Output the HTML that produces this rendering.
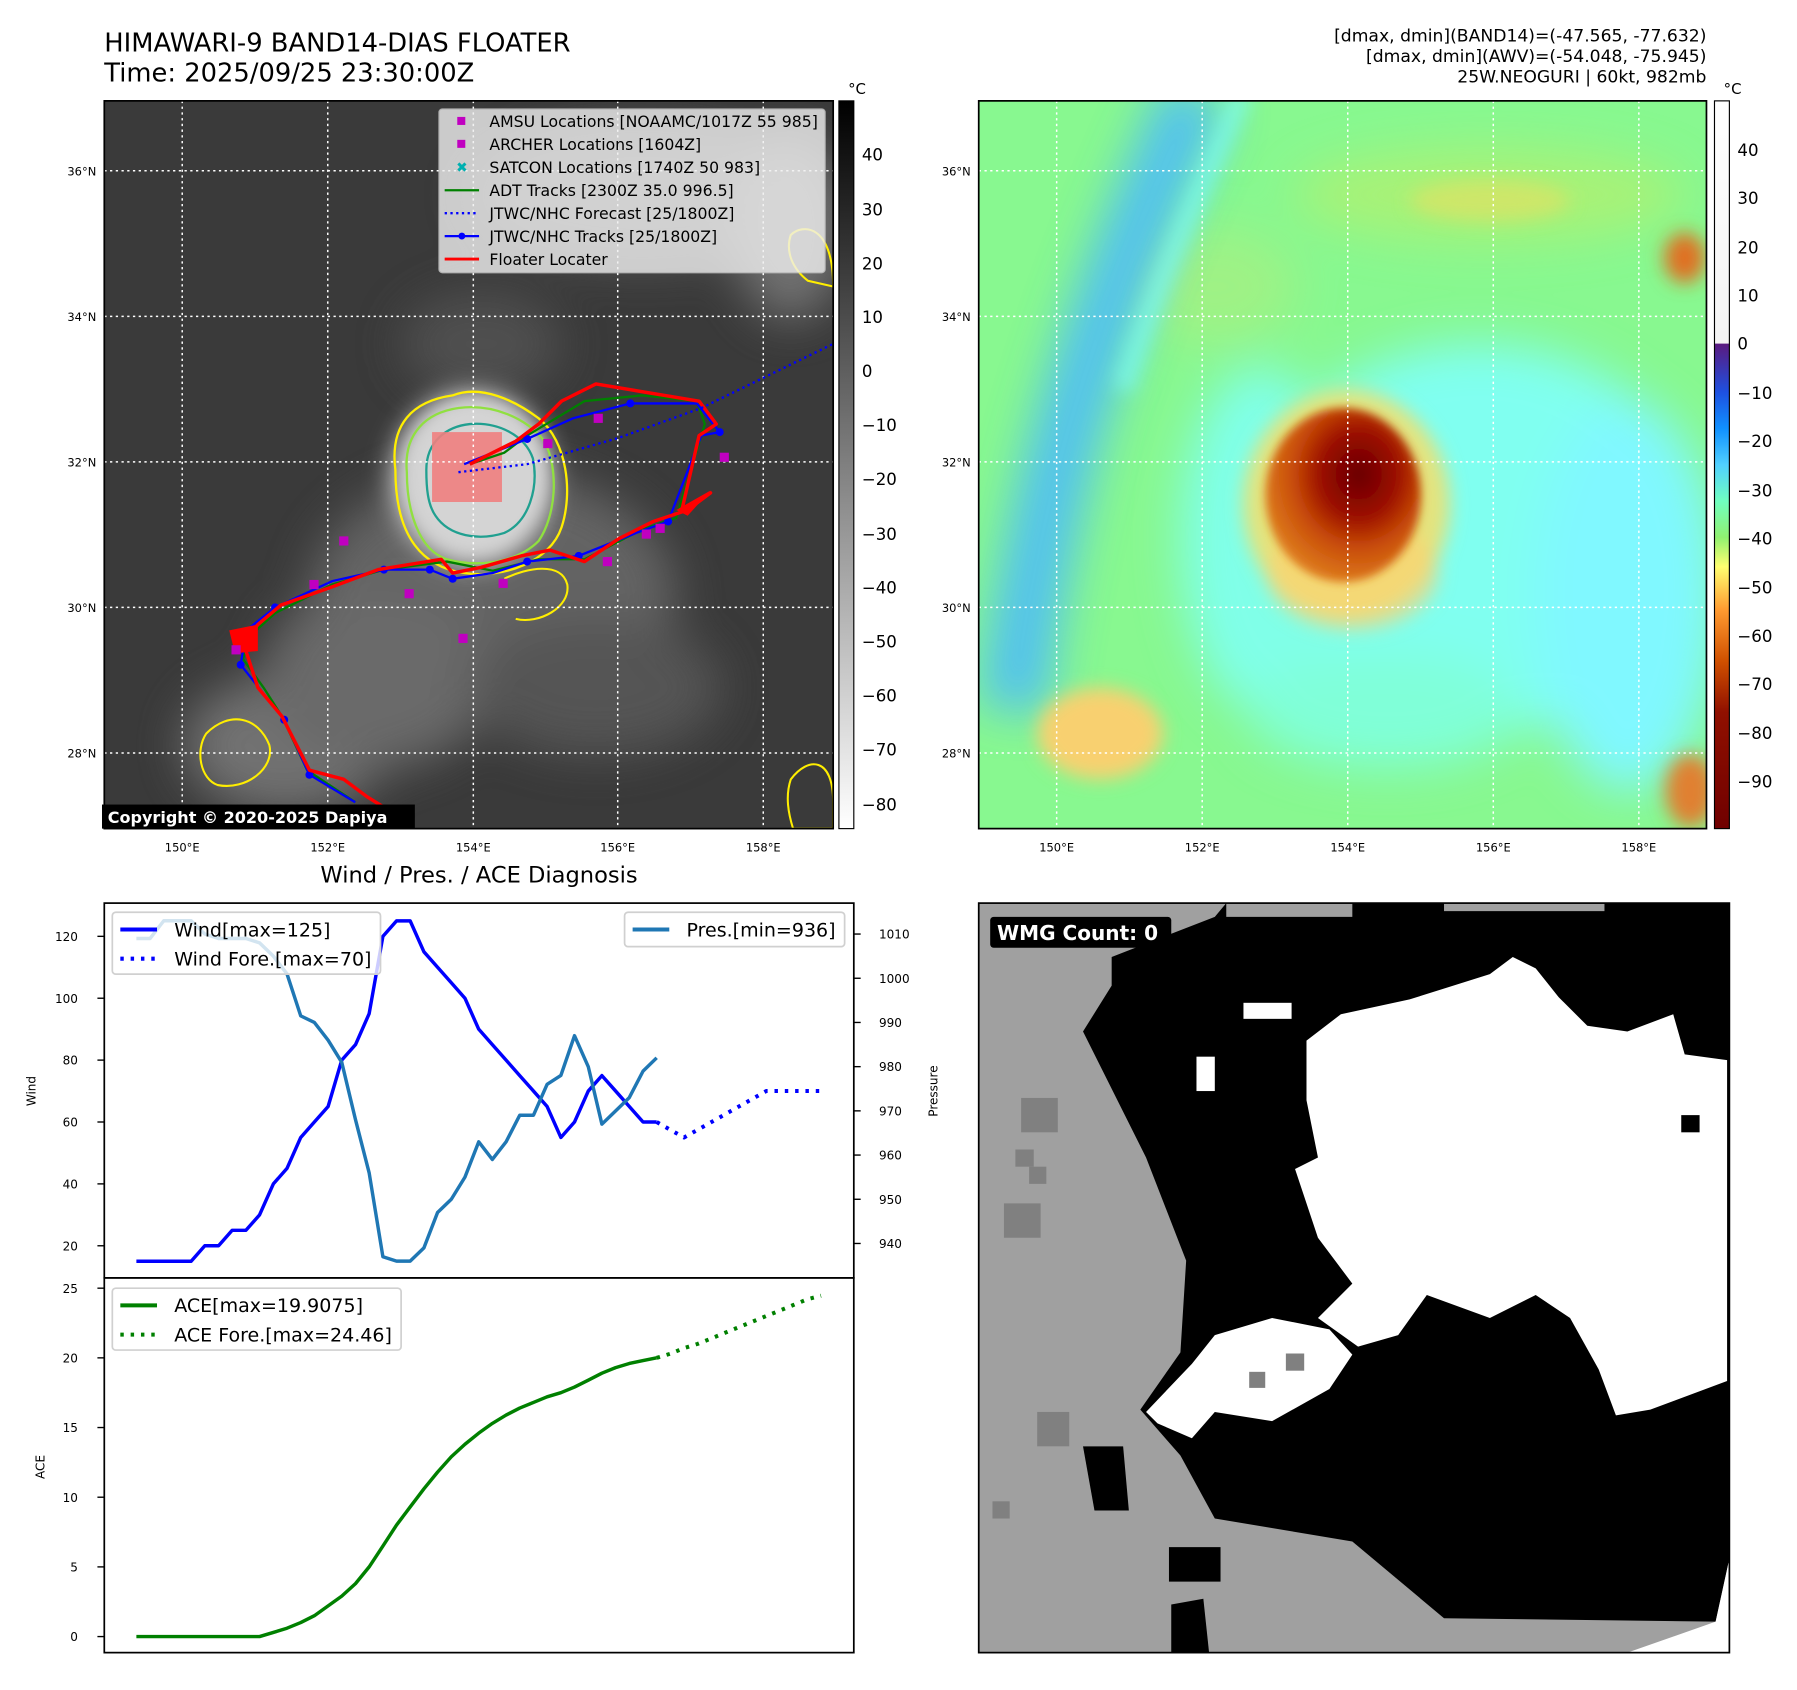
<!DOCTYPE html>
<html><head><meta charset="utf-8"><style>
html,body{margin:0;padding:0;background:#fff;}
svg{display:block;font-family:"DejaVu Sans","Liberation Sans",sans-serif;}
</style></head><body>
<svg id="fig" width="1797" height="1690" viewBox="0 0 1568 1474.6" xmlns="http://www.w3.org/2000/svg">
<defs>
  <filter id="blur8" x="-50%" y="-50%" width="200%" height="200%"><feGaussianBlur stdDeviation="8"/></filter>
  <filter id="blur20" x="-50%" y="-50%" width="200%" height="200%"><feGaussianBlur stdDeviation="20"/></filter>
  <filter id="blur4" x="-50%" y="-50%" width="200%" height="200%"><feGaussianBlur stdDeviation="4"/></filter>
  <clipPath id="clipL"><rect x="91" y="88" width="636" height="635"/></clipPath>
  <clipPath id="clipR"><rect x="854" y="88" width="635" height="635"/></clipPath>
  <clipPath id="clipW"><rect x="854" y="788" width="655" height="654"/></clipPath>
  <linearGradient id="cbL" x1="0" y1="1" x2="0" y2="0"><stop offset="0" stop-color="#fff"/><stop offset="1" stop-color="#000"/></linearGradient>
  <linearGradient id="cbR" x1="0" y1="0" x2="0" y2="1">
    <stop offset="0" stop-color="#ffffff"/><stop offset="0.333" stop-color="#f4f4f4"/>
    <stop offset="0.334" stop-color="#5a1a80"/><stop offset="0.40" stop-color="#1e50e0"/>
    <stop offset="0.45" stop-color="#1090ff"/><stop offset="0.50" stop-color="#50d0ff"/>
    <stop offset="0.55" stop-color="#70ffc0"/><stop offset="0.60" stop-color="#90f070"/>
    <stop offset="0.64" stop-color="#ffff70"/><stop offset="0.70" stop-color="#ff9a30"/>
    <stop offset="0.77" stop-color="#d05000"/><stop offset="0.84" stop-color="#901000"/>
    <stop offset="1" stop-color="#700000"/></linearGradient>
  <radialGradient id="stormR" cx="0.6" cy="0.38" r="0.65"><stop offset="0" stop-color="#6a0000"/><stop offset="0.35" stop-color="#980a00"/><stop offset="0.65" stop-color="#c84c08"/><stop offset="1" stop-color="#e08020"/></radialGradient>
  <radialGradient id="stormL" cx="0.5" cy="0.5" r="0.5"><stop offset="0" stop-color="#e8e8e8"/><stop offset="0.7" stop-color="#c8c8c8"/><stop offset="1" stop-color="#909090" stop-opacity="0"/></radialGradient>
</defs>

<text x="91" y="45" font-size="22.5">HIMAWARI-9 BAND14-DIAS FLOATER</text>
<text x="91" y="71" font-size="22.5">Time: 2025/09/25 23:30:00Z</text>
<g font-size="15" text-anchor="end">
  <text x="1489" y="36">[dmax, dmin](BAND14)=(-47.565, -77.632)</text>
  <text x="1489" y="54">[dmax, dmin](AWV)=(-54.048, -75.945)</text>
  <text x="1489" y="72">25W.NEOGURI | 60kt, 982mb</text>
</g>

<!-- LEFT MAP -->
<g clip-path="url(#clipL)">
  <rect x="91" y="88" width="636" height="635" fill="#3a3a3a"/>
  <g filter="url(#blur20)" opacity="0.8">
    <ellipse cx="250" cy="650" rx="90" ry="60" fill="#808080"/>
    <ellipse cx="430" cy="520" rx="160" ry="110" fill="#6e6e6e"/>
    <ellipse cx="330" cy="590" rx="100" ry="80" fill="#767676"/>
    <ellipse cx="520" cy="600" rx="110" ry="60" fill="#5c5c5c"/>
    <ellipse cx="560" cy="170" rx="150" ry="60" fill="#5e5e5e"/>
    <ellipse cx="690" cy="200" rx="50" ry="80" fill="#808080"/>
    <ellipse cx="420" cy="300" rx="70" ry="45" fill="#555"/>
  </g>
  <ellipse cx="412" cy="418" rx="85" ry="92" fill="url(#stormL)" filter="url(#blur8)"/>
  <ellipse cx="415" cy="415" rx="60" ry="66" fill="#d4d4d4" filter="url(#blur8)"/>
  <path d="M345,410 C340,370 360,350 395,345 C420,335 450,350 470,365 C495,385 500,430 490,460 C480,490 440,505 405,500 C370,495 345,470 345,410 Z" fill="none" stroke="#ffee00" stroke-width="2"/>
  <path d="M355,412 C352,378 372,360 400,356 C430,352 460,365 475,385 C488,410 485,450 470,472 C450,492 415,495 390,488 C365,480 355,445 355,412 Z" fill="none" stroke="#90e040" stroke-width="2"/>
  <path d="M372,410 C372,385 390,372 410,370 C435,368 458,380 465,400 C470,425 462,455 440,465 C418,472 392,468 380,450 C373,440 372,425 372,410 Z" fill="none" stroke="#20a090" stroke-width="2"/>
  <path d="M180,640 C200,620 225,625 235,650 C240,670 215,690 190,685 C175,680 170,655 180,640 Z" fill="none" stroke="#ffee00" stroke-width="1.8"/>
  <path d="M690,680 C705,660 727,660 727,700 L727,723 L692,723 C688,710 685,695 690,680 Z" fill="none" stroke="#ffee00" stroke-width="1.8"/>
  <path d="M690,205 C700,195 727,195 727,250 L705,245 C692,235 685,220 690,205 Z" fill="none" stroke="#ffee00" stroke-width="1.8"/>
  <path d="M440,505 C460,495 490,490 495,510 C498,530 470,545 450,540" fill="none" stroke="#ffee00" stroke-width="1.8"/>
  <rect x="377" y="377" width="61" height="61" fill="#f08080" opacity="0.9"/>
  <g stroke="#fff" stroke-width="1.3" stroke-dasharray="2,3">
    <line x1="159" y1="88" x2="159" y2="723"/><line x1="286" y1="88" x2="286" y2="723"/><line x1="413" y1="88" x2="413" y2="723"/><line x1="539" y1="88" x2="539" y2="723"/><line x1="666" y1="88" x2="666" y2="723"/>
    <line x1="91" y1="149" x2="727" y2="149"/><line x1="91" y1="276" x2="727" y2="276"/><line x1="91" y1="403" x2="727" y2="403"/><line x1="91" y1="530" x2="727" y2="530"/><line x1="91" y1="657" x2="727" y2="657"/>
  </g>
  <polyline fill="none" stroke="#008000" stroke-width="2" points="310,700 268,672 246,625 230,600 212,575 218,555 240,535 290,510 335,497 390,490 430,498 470,488 510,488 560,462 590,452 615,370 608,350 560,345 510,350 485,365 460,380 440,395 410,405"/>
  <polyline fill="none" stroke="#0000ff" stroke-width="2" points="310,700 270,676 248,628 210,580 215,550 240,530 290,507 335,497 375,497 395,505 430,500 460,490 505,485 555,465 583,455 612,380 628,377 608,352 550,352 500,365 460,383 430,395 405,405"/>
  <g fill="#0000ff">
    <circle cx="270" cy="676" r="3.5"/><circle cx="248" cy="628" r="3.5"/><circle cx="210" cy="580" r="3.5"/><circle cx="240" cy="530" r="3.5"/><circle cx="335" cy="497" r="3.5"/><circle cx="375" cy="497" r="3.5"/><circle cx="395" cy="505" r="3.5"/><circle cx="460" cy="490" r="3.5"/><circle cx="505" cy="485" r="3.5"/><circle cx="583" cy="455" r="3.5"/><circle cx="628" cy="377" r="3.5"/><circle cx="550" cy="352" r="3.5"/><circle cx="460" cy="383" r="3.5"/>
  </g>
  <polyline fill="none" stroke="#ff0000" stroke-width="3" stroke-linejoin="round" points="360,720 320,695 300,680 270,672 246,625 225,600 212,560 225,545 245,528 290,512 330,497 385,488 395,500 420,495 455,485 480,480 510,490 540,470 570,455 600,445 620,430 595,445 610,380 625,370 610,350 520,335 490,350 470,370 450,385 430,395 410,405"/>
  <polygon points="200,550 225,545 225,568 205,570" fill="#ff0000"/>
  <polygon points="590,445 620,428 600,450" fill="#ff0000"/>
  <polyline fill="none" stroke="#0000ff" stroke-width="2" stroke-dasharray="2,3" points="400,412 460,405 540,382 612,356 727,300"/>
  <g fill="#c000c0">
    <rect x="296" y="468" width="8" height="8"/><rect x="270" y="506" width="8" height="8"/><rect x="400" y="553" width="8" height="8"/><rect x="474" y="383" width="8" height="8"/><rect x="518" y="361" width="8" height="8"/><rect x="628" y="395" width="8" height="8"/><rect x="435" y="505" width="8" height="8"/><rect x="353" y="514" width="8" height="8"/><rect x="560" y="462" width="8" height="8"/><rect x="572" y="457" width="8" height="8"/><rect x="202" y="563" width="8" height="8"/><rect x="526" y="486" width="8" height="8"/>
  </g>
</g>
<rect x="91" y="88" width="636" height="635" fill="none" stroke="#000" stroke-width="1.5"/>
<g>
  <rect x="383" y="95" width="337" height="143" rx="3" fill="#f0f0f0" opacity="0.8" stroke="#ccc"/>
  <g font-size="13.7" fill="#000">
    <rect x="399" y="102" width="7" height="7" fill="#c000c0"/><text x="427" y="111">AMSU Locations [NOAAMC/1017Z 55 985]</text>
    <rect x="399" y="122" width="7" height="7" fill="#c000c0"/><text x="427" y="131">ARCHER Locations [1604Z]</text>
    <text x="398" y="150" fill="#00b0b0" font-size="12">✖</text><text x="427" y="151">SATCON Locations [1740Z 50 983]</text>
    <line x1="388" y1="166" x2="418" y2="166" stroke="#008000" stroke-width="2"/><text x="427" y="171">ADT Tracks [2300Z 35.0 996.5]</text>
    <line x1="388" y1="186" x2="418" y2="186" stroke="#0000ff" stroke-width="2" stroke-dasharray="2,3"/><text x="427" y="191">JTWC/NHC Forecast [25/1800Z]</text>
    <line x1="388" y1="206" x2="418" y2="206" stroke="#0000ff" stroke-width="2"/><circle cx="403" cy="206" r="3" fill="#0000ff"/><text x="427" y="211">JTWC/NHC Tracks [25/1800Z]</text>
    <line x1="388" y1="226" x2="418" y2="226" stroke="#ff0000" stroke-width="2.5"/><text x="427" y="231">Floater Locater</text>
  </g>
</g>
<rect x="89" y="702" width="273" height="21" fill="#000"/>
<text x="94" y="718" font-size="14" font-weight="bold" fill="#fff">Copyright © 2020-2025 Dapiya</text>
<g font-size="10" text-anchor="end">
  <text x="84" y="153">36°N</text><text x="84" y="280">34°N</text><text x="84" y="407">32°N</text><text x="84" y="534">30°N</text><text x="84" y="661">28°N</text>
</g>
<g font-size="10" text-anchor="middle">
  <text x="159" y="743">150°E</text><text x="286" y="743">152°E</text><text x="413" y="743">154°E</text><text x="539" y="743">156°E</text><text x="666" y="743">158°E</text>
</g>
<rect x="732" y="88" width="13" height="635" fill="url(#cbL)" stroke="#000" stroke-width="1"/>
<text x="740" y="82" font-size="13">°C</text>
<g font-size="14.5">
  <text x="752" y="140">40</text><text x="752" y="188">30</text><text x="752" y="235">20</text><text x="752" y="282">10</text><text x="752" y="329">0</text><text x="752" y="376">−10</text><text x="752" y="423">−20</text><text x="752" y="471">−30</text><text x="752" y="518">−40</text><text x="752" y="565">−50</text><text x="752" y="612">−60</text><text x="752" y="659">−70</text><text x="752" y="707">−80</text>
</g>

<!-- RIGHT MAP -->
<g clip-path="url(#clipR)">
  <rect x="854" y="88" width="635" height="635" fill="#88f890"/>
  <g filter="url(#blur20)">
    <ellipse cx="1290" cy="470" rx="200" ry="170" fill="#80fff0"/>
    <ellipse cx="1420" cy="520" rx="80" ry="170" fill="#80f8ff"/>
    <ellipse cx="1100" cy="470" rx="70" ry="150" fill="#80ffe8"/>
    <ellipse cx="1210" cy="620" rx="120" ry="50" fill="#80ffd8"/>
    <ellipse cx="1300" cy="170" rx="170" ry="40" fill="#b0f070" opacity="0.8"/>
    <ellipse cx="1060" cy="250" rx="70" ry="50" fill="#a8f080" opacity="0.7"/>
  </g>
  <path d="M1045,80 C990,200 955,290 925,400 C905,480 890,560 884,620" fill="none" stroke="#48b8ff" stroke-width="60" filter="url(#blur20)" opacity="0.85"/>
  <path d="M1085,80 C1040,180 1005,260 980,340" fill="none" stroke="#80ffff" stroke-width="18" filter="url(#blur8)" opacity="0.6"/>
  <g filter="url(#blur8)">
    <ellipse cx="1175" cy="440" rx="90" ry="100" fill="#f0e070" opacity="0.9"/>
    <ellipse cx="1180" cy="500" rx="75" ry="50" fill="#ffd070" opacity="0.6"/>
    <ellipse cx="960" cy="640" rx="55" ry="40" fill="#f8d070"/>
    <ellipse cx="1470" cy="225" rx="18" ry="22" fill="#e07020"/>
    <ellipse cx="1475" cy="690" rx="22" ry="32" fill="#e08030"/>
    <ellipse cx="1300" cy="175" rx="70" ry="18" fill="#e8e060" opacity="0.6"/>
  </g>
  <ellipse cx="1172" cy="432" rx="68" ry="76" fill="url(#stormR)" filter="url(#blur4)"/>
  <g stroke="#fff" stroke-width="1.3" stroke-dasharray="2,3">
    <line x1="922" y1="88" x2="922" y2="723"/><line x1="1049" y1="88" x2="1049" y2="723"/><line x1="1176" y1="88" x2="1176" y2="723"/><line x1="1303" y1="88" x2="1303" y2="723"/><line x1="1430" y1="88" x2="1430" y2="723"/>
    <line x1="854" y1="149" x2="1489" y2="149"/><line x1="854" y1="276" x2="1489" y2="276"/><line x1="854" y1="403" x2="1489" y2="403"/><line x1="854" y1="530" x2="1489" y2="530"/><line x1="854" y1="657" x2="1489" y2="657"/>
  </g>
</g>
<rect x="854" y="88" width="635" height="635" fill="none" stroke="#000" stroke-width="1.5"/>
<g font-size="10" text-anchor="end">
  <text x="847" y="153">36°N</text><text x="847" y="280">34°N</text><text x="847" y="407">32°N</text><text x="847" y="534">30°N</text><text x="847" y="661">28°N</text>
</g>
<g font-size="10" text-anchor="middle">
  <text x="922" y="743">150°E</text><text x="1049" y="743">152°E</text><text x="1176" y="743">154°E</text><text x="1303" y="743">156°E</text><text x="1430" y="743">158°E</text>
</g>
<rect x="1496" y="88" width="13" height="635" fill="url(#cbR)" stroke="#000" stroke-width="1"/>
<text x="1504" y="82" font-size="13">°C</text>
<g font-size="14.5">
  <text x="1516" y="136">40</text><text x="1516" y="178">30</text><text x="1516" y="221">20</text><text x="1516" y="263">10</text><text x="1516" y="305">0</text><text x="1516" y="348">−10</text><text x="1516" y="390">−20</text><text x="1516" y="433">−30</text><text x="1516" y="475">−40</text><text x="1516" y="518">−50</text><text x="1516" y="560">−60</text><text x="1516" y="602">−70</text><text x="1516" y="645">−80</text><text x="1516" y="687">−90</text>
</g>

<!-- WMG panel -->
<g clip-path="url(#clipW)">
  <rect x="854" y="788" width="655" height="654" fill="#a0a0a0"/>
  <polygon fill="#000" points="970,835 1060,800 1070,788 1509,788 1509,1360 1497,1415 1260,1412 1180,1345 1060,1325 1030,1270 995,1230 1030,1180 1035,1100 1000,1010 975,960 945,900 970,860"/>
  <polygon fill="#000" points="945,1262 980,1262 985,1318 955,1318"/>
  <polygon fill="#000" points="1020,1350 1065,1350 1065,1380 1020,1380"/>
  <polygon fill="#000" points="1022,1400 1050,1395 1055,1442 1022,1442"/>
  <polygon fill="#a0a0a0" points="1070,788 1180,788 1180,800 1070,800"/>
  <polygon fill="#a0a0a0" points="1260,788 1400,788 1400,795 1260,795"/>
  <polygon fill="#fff" points="1140,908 1170,885 1230,872 1300,850 1320,835 1340,845 1360,870 1385,895 1420,900 1460,885 1470,920 1507,925 1507,1205 1440,1230 1410,1235 1395,1195 1370,1150 1340,1130 1300,1150 1245,1130 1220,1165 1185,1175 1150,1150 1180,1120 1150,1080 1130,1020 1150,1010 1140,960"/>
  <polygon fill="#fff" points="1000,1232 1040,1190 1060,1165 1110,1150 1160,1160 1180,1182 1160,1212 1110,1240 1060,1232 1040,1255 1010,1242"/>
  <rect x="1085" y="875" width="42" height="14" fill="#fff"/>
  <rect x="1044" y="922" width="16" height="30" fill="#fff"/>
  <rect x="1467" y="973" width="16" height="15" fill="#000"/>
  <g fill="#808080"><rect x="891" y="958" width="32" height="30"/><rect x="886" y="1003" width="16" height="15"/><rect x="898" y="1018" width="15" height="15"/><rect x="876" y="1050" width="32" height="30"/><rect x="905" y="1232" width="28" height="30"/><rect x="866" y="1310" width="15" height="15"/><rect x="1090" y="1197" width="14" height="14"/><rect x="1122" y="1181" width="16" height="15"/></g>
  <polygon fill="#fff" points="1420,1442 1497,1415 1509,1360 1509,1442"/>
</g>
<rect x="854" y="788" width="655" height="654" fill="none" stroke="#000" stroke-width="1.5"/>
<rect x="864" y="800" width="158" height="27" rx="3" fill="#000"/>
<text x="870" y="820" font-size="17.5" font-weight="bold" fill="#fff">WMG Count: 0</text>

<text x="418" y="770" font-size="19.7" text-anchor="middle">Wind / Pres. / ACE Diagnosis</text>
<g id="charts"></g>
<rect x="91" y="788" width="654" height="327" fill="none" stroke="#000" stroke-width="1.5"/>
<rect x="91" y="1115" width="654" height="327" fill="none" stroke="#000" stroke-width="1.5"/>
<text transform="translate(31,952) rotate(-90)" font-size="10.5" text-anchor="middle">Wind</text>
<text transform="translate(818,952) rotate(-90)" font-size="10.5" text-anchor="middle">Pressure</text>
<text transform="translate(39,1280) rotate(-90)" font-size="10.5" text-anchor="middle">ACE</text>
</svg>
<script>
const windObs = [15,15,15,15,15,20,20,25,25,30,40,45,55,60,65,80,85,95,120,125,125,115,110,105,100,90,85,80,75,70,65,55,60,70,75,70,65,60,60];
const windFore = [60,57.5,55,57.5,60,62.5,65,67.5,70,70,70,70,70];
const presObs = [1009,1009,1013,1013,1013,1010,1009,1009,1009,1008,1005,1001,991.5,990,986,981,968,956,937,936,936,939,947,950,955,963,959,963,969,969,976,978,987,980,967,970,973,979,982];
const aceObs = [0,0,0,0,0,0,0,0,0,0,0.3,0.6,1.0,1.5,2.2,2.9,3.8,5.0,6.5,8.0,9.3,10.6,11.8,12.9,13.8,14.6,15.3,15.9,16.4,16.8,17.2,17.5,17.9,18.4,18.9,19.3,19.6,19.8,20.0];
const aceFore = [20.0,20.3,20.7,21.0,21.4,21.8,22.2,22.6,23.0,23.4,23.8,24.2,24.46];
const windTicks = [20,40,60,80,100,120];
const presTicks = [940,950,960,970,980,990,1000,1010];
const aceTicks = [0,5,10,15,20,25];

const NS='http://www.w3.org/2000/svg';
const g=document.getElementById('charts');
const xS=i=>119+i*(573-119)/38;
const yW=v=>1087-(v-20)*2.7;
const yP=p=>815+(1010-p)*3.857;
const yA=v=>1428-v*12.16;
function mk(tag,attrs,parent){const e=document.createElementNS(NS,tag);for(const k in attrs)e.setAttribute(k,attrs[k]);(parent||g).appendChild(e);return e;}
function line(vals,off,yf,color,w,dash){
  const pts=vals.map((v,i)=>xS(i+off).toFixed(1)+','+yf(v).toFixed(1)).join(' ');
  const a={points:pts,fill:'none',stroke:color,'stroke-width':w,'stroke-linejoin':'round'};
  if(dash)a['stroke-dasharray']=dash;
  return mk('polyline',a);
}
windTicks.forEach(t=>{
  const l=mk('line',{x1:85,x2:91,y1:yW(t),y2:yW(t),stroke:'#000','stroke-width':1.2});
  
  
  const tx=mk('text',{x:68,y:yW(t)+4,'font-size':10.5,'text-anchor':'end'});tx.textContent=t;
  
  
});
presTicks.forEach(t=>{
  const l=mk('line',{x1:745,x2:751,y1:yP(t),y2:yP(t),stroke:'#000','stroke-width':1.2});
  
  
  const tx=mk('text',{x:767,y:yP(t)+4,'font-size':10.5});tx.textContent=t;
  
  
});
aceTicks.forEach(t=>{
  const l=mk('line',{x1:85,x2:91,y1:yA(t),y2:yA(t),stroke:'#000','stroke-width':1.2});
  
  
  const tx=mk('text',{x:68,y:yA(t)+4,'font-size':10.5,'text-anchor':'end'});tx.textContent=t;
  
  
});
let e;
e=line(windObs,0,yW,'#0000ff',3);


e=line(windFore,38,yW,'#0000ff',3.5,'3,6');


e=line(presObs,0,yP,'#1f77b4',3);


e=line(aceObs,0,yA,'#008000',3);


e=line(aceFore,38,yA,'#008000',3.5,'3,6');


function legend(x,y,w,h,items,name){
  const lg=mk('g',{});
  
  
  mk('rect',{x:x,y:y,width:w,height:h,rx:3,fill:'#fff','fill-opacity':0.8,stroke:'#d0d0d0','stroke-width':1.5},lg);
  items.forEach((it,k)=>{
    const cy=y+15+k*25.5;
    const a={x1:x+7,x2:x+39,y1:cy,y2:cy,stroke:it[1],'stroke-width':3.5};
    if(it[2])a['stroke-dasharray']='3,6';
    mk('line',a,lg);
    const t=mk('text',{x:x+54,y:cy+6,'font-size':16.6},lg);t.textContent=it[0];
  });
}
legend(98,796,234,54,[['Wind[max=125]','#0000ff'],['Wind Fore.[max=70]','#0000ff',1]],'wind-legend');
legend(545,796,192,30,[['Pres.[min=936]','#1f77b4']],'pressure-legend');
legend(98,1124,252,54,[['ACE[max=19.9075]','#008000'],['ACE Fore.[max=24.46]','#008000',1]],'ace-legend');
</script>
</body></html>
